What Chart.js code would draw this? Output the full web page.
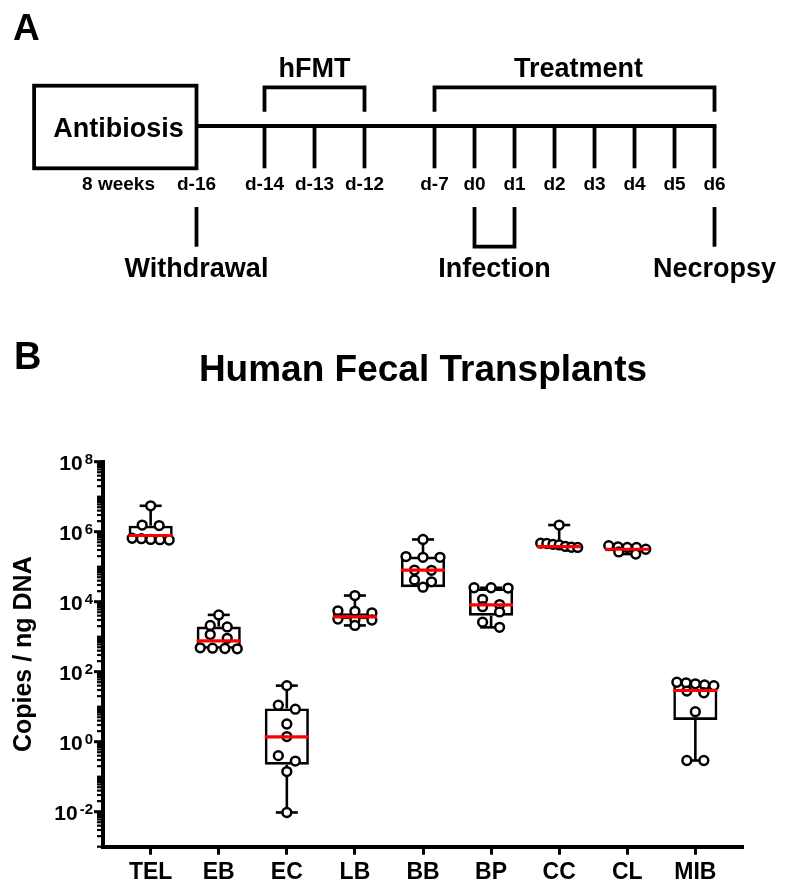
<!DOCTYPE html>
<html><head><meta charset="utf-8">
<script src="https://cdn.jsdelivr.net/npm/chart.js@4.4.1/dist/chart.umd.min.js"></script>
<style>html,body{margin:0;padding:0;background:#fff;}canvas{display:block;}</style>
</head><body>
<canvas id="panelA" width="785" height="300"></canvas>
<canvas id="panelB" width="785" height="592"></canvas>
<script>
const FONT = "'Liberation Sans', Arial, Helvetica, sans-serif";
Chart.defaults.font.family = FONT;
Chart.defaults.color = '#000';

/* ---------- Panel A: timeline (schematic slots) ---------- */
const dayLabels = ['d-16','d-14','d-13','d-12','d-7','d0','d1','d2','d3','d4','d5','d6'];
const daySlots  = [0, 1.7, 2.95, 4.2, 5.95, 6.95, 7.95, 8.95, 9.95, 10.95, 11.95, 12.95];
const antibiosisSlots = [-4.06, 0];
const antibiosisLabelSlot = -1.95;
const antibiosisDuration = '8 weeks';
const phaseLabels = ['hFMT', 'Treatment'];
const phaseFrom   = ['d-14', 'd-7'];
const phaseTo     = ['d-12', 'd6'];
const eventLabels = ['Withdrawal', 'Infection', 'Necropsy'];
const eventFrom   = ['d-16', 'd0', 'd6'];
const eventTo     = ['d-16', 'd1', 'd6'];

/* ---------- Panel B: data ---------- */
const categories = ['TEL','EB','EC','LB','BB','BP','CC','CL','MIB'];
const pointsTEL = [5.5e6, 1.55e6, 1.5e6, 6.5e5, 6.0e5, 5.8e5, 6.3e5, 5.9e5];
const pointsEB  = [4200, 2100, 1900, 1150, 900, 470, 460, 450, 480];
const pointsEC  = [40, 11, 8.5, 3.2, 1.4, 0.4, 0.28, 0.14, 0.0095];
const pointsLB  = [1.5e4, 5.5e3, 5.3e3, 4.8e3, 3.2e3, 3.0e3, 3.05e3, 2.1e3];
const pointsBB  = [6.0e5, 1.85e5, 1.95e5, 1.85e5, 8.0e4, 7.9e4, 4.2e4, 3.7e4, 2.6e4];
const pointsBP  = [2.5e4, 2.5e4, 2.45e4, 1.17e4, 8.3e3, 7.2e3, 5.1e3, 2.6e3, 1.85e3];
const pointsCC  = [1.55e6, 4.7e5, 4.6e5, 4.35e5, 4.2e5, 3.8e5, 3.6e5, 3.55e5];
const pointsCL  = [4.0e5, 3.7e5, 3.55e5, 3.55e5, 3.15e5, 2.65e5, 2.3e5];
const pointsMIB = [50, 48, 45, 42, 40, 28, 25, 7.2, 0.29, 0.29];
const groupPoints = [pointsTEL, pointsEB, pointsEC, pointsLB, pointsBB, pointsBP, pointsCC, pointsCL, pointsMIB];

const boxMin    = [5.8e5, 450, 0.0095, 2.1e3, 2.6e4, 1.85e3, 3.55e5, 2.3e5, 0.29];
const boxQ1     = [6.0e5, 450, 0.22,   3.15e3, 2.6e4, 4.0e3, 3.6e5, 2.75e5, 4.2];
const boxMedian = [7.8e5, 760, 1.38,   3.7e3, 8.0e4, 8.1e3, 3.75e5, 3.15e5, 29];
const boxQ3     = [1.48e6, 1950, 8.9,  4.7e3, 1.95e5, 2.4e4, 4.4e5, 3.45e5, 47];
const boxMax    = [5.5e6, 4200, 40,    1.5e4, 6.0e5, 2.5e4, 1.55e6, 4.0e5, 50];

const yLabelExponents = [8, 6, 4, 2, 0, -2];
const yMinExp = -3, yMaxExp = 8;
const chartTitle = 'Human Fecal Transplants';
const yTitle = 'Copies / ng DNA';

/* ---------- Panel A chart ---------- */
const timelinePlugin = {
  id: 'timeline',
  afterDraw(chart) {
    const {ctx, scales: {x, y}} = chart;
    const X = s => x.getPixelForValue(s);
    const Y = v => y.getPixelForValue(v);
    const slot = lbl => daySlots[dayLabels.indexOf(lbl)];
    const L = {line: 126, boxTop: 85.7, boxBot: 168.3, tickBot: 168.3, bracketTop: 87.3, bracketBot: 111.7,
               phaseText: 77, boxText: 137, dayText: 190, evTop: 207, evBot: 246.7, evText: 277};
    ctx.save();
    ctx.strokeStyle = '#000'; ctx.fillStyle = '#000';
    ctx.lineWidth = 3.8; ctx.lineJoin = 'miter'; ctx.lineCap = 'butt';

    ctx.font = `bold 37px ${FONT}`; ctx.textAlign = 'left'; ctx.textBaseline = 'alphabetic';
    ctx.fillText('A', 13, Y(40));

    ctx.strokeRect(X(antibiosisSlots[0]), Y(L.boxTop), X(antibiosisSlots[1]) - X(antibiosisSlots[0]), Y(L.boxBot) - Y(L.boxTop));
    ctx.font = `bold 27px ${FONT}`; ctx.textAlign = 'center';
    ctx.fillText('Antibiosis', X(antibiosisLabelSlot), Y(L.boxText));

    ctx.beginPath();
    ctx.moveTo(X(daySlots[0]), Y(L.line)); ctx.lineTo(X(daySlots[daySlots.length - 1]) + 1.9, Y(L.line));
    ctx.stroke();
    daySlots.forEach((s, i) => {
      if (i === 0) return;
      ctx.beginPath(); ctx.moveTo(X(s), Y(L.line)); ctx.lineTo(X(s), Y(L.tickBot)); ctx.stroke();
    });
    ctx.font = `bold 19px ${FONT}`; ctx.textAlign = 'center';
    dayLabels.forEach((d, i) => ctx.fillText(d, X(daySlots[i]), Y(L.dayText)));
    ctx.fillText(antibiosisDuration, X(antibiosisLabelSlot), Y(L.dayText));

    phaseLabels.forEach((lbl, i) => {
      const a = X(slot(phaseFrom[i])), b = X(slot(phaseTo[i]));
      ctx.beginPath();
      ctx.moveTo(a, Y(L.bracketBot)); ctx.lineTo(a, Y(L.bracketTop)); ctx.lineTo(b, Y(L.bracketTop)); ctx.lineTo(b, Y(L.bracketBot));
      ctx.stroke();
      ctx.font = `bold 27px ${FONT}`;
      ctx.fillText(lbl, (a + b) / 2 + (i === 1 ? 4 : 0), Y(L.phaseText));
    });

    eventLabels.forEach((lbl, i) => {
      const a = X(slot(eventFrom[i])), b = X(slot(eventTo[i]));
      ctx.beginPath();
      if (a === b) {
        ctx.moveTo(a, Y(L.evTop)); ctx.lineTo(a, Y(L.evBot));
      } else {
        ctx.moveTo(a, Y(L.evTop)); ctx.lineTo(a, Y(L.evBot)); ctx.lineTo(b, Y(L.evBot)); ctx.lineTo(b, Y(L.evTop));
      }
      ctx.stroke();
      ctx.font = `bold 27px ${FONT}`;
      ctx.fillText(lbl, (a + b) / 2, Y(L.evText));
    });
    ctx.restore();
  }
};

new Chart(document.getElementById('panelA'), {
  type: 'scatter',
  data: {datasets: []},
  options: {
    responsive: false, animation: false, events: [],
    layout: {padding: 0},
    plugins: {legend: {display: false}, tooltip: {enabled: false}},
    scales: {
      x: {type: 'linear', display: false, min: -4.9125, max: 14.7125},
      y: {type: 'linear', display: false, min: 0, max: 300, reverse: true}
    }
  },
  plugins: [timelinePlugin]
});

/* ---------- Panel B chart ---------- */
const scatterData = [];
groupPoints.forEach((arr, i) => arr.forEach(v => scatterData.push({x: i, y: v})));
const boxData = categories.map((c, i) => ({x: i, y: [boxQ1[i], boxQ3[i]]}));

const swarmPlugin = {
  id: 'swarm',
  afterDatasetsUpdate(chart) {
    const meta = chart.getDatasetMeta(0);
    const xs = chart.scales.x;
    const groups = {};
    meta.data.forEach((el, k) => {
      const cat = chart.data.datasets[0].data[k].x;
      (groups[cat] = groups[cat] || []).push(el);
    });
    const ROW_GAP = 6;
    Object.keys(groups).forEach(cat => {
      const cx = xs.getPixelForValue(+cat);
      const els = groups[cat].slice().sort((a, b) => a.y - b.y);
      const rows = []; let cur = null;
      els.forEach(el => {
        if (cur && el.y - cur.y0 < ROW_GAP) cur.items.push(el);
        else { cur = {y0: el.y, items: [el]}; rows.push(cur); }
      });
      rows.forEach(r => {
        const n = r.items.length;
        const sp = n > 1 ? Math.min(17, 37 / (n - 1)) : 0;
        r.items.forEach((el, j) => { el.x = cx + (j - (n - 1) / 2) * sp; });
      });
    });
  }
};

const boxDecor = {
  id: 'boxDecor',
  beforeDatasetsDraw(chart) {
    const {ctx, scales: {x, y}} = chart;
    ctx.save();
    ctx.strokeStyle = '#000'; ctx.lineWidth = 2.6; ctx.lineCap = 'butt';
    const capHalf = 11;
    const seg = (x1, y1, x2, y2) => { ctx.beginPath(); ctx.moveTo(x1, y1); ctx.lineTo(x2, y2); ctx.stroke(); };
    categories.forEach((c, i) => {
      const cx = x.getPixelForValue(i);
      if (boxMax[i] > boxQ3[i]) {
        const yT = y.getPixelForValue(boxMax[i]);
        seg(cx, y.getPixelForValue(boxQ3[i]), cx, yT);
        seg(cx - capHalf, yT, cx + capHalf, yT);
      }
      if (boxMin[i] < boxQ1[i]) {
        const yB = y.getPixelForValue(boxMin[i]);
        seg(cx, y.getPixelForValue(boxQ1[i]), cx, yB);
        seg(cx - capHalf, yB, cx + capHalf, yB);
      }
    });
    ctx.restore();
  },
  afterDatasetsDraw(chart) {
    const {ctx, scales: {x, y}} = chart;
    const bars = chart.getDatasetMeta(1).data;
    ctx.save();
    ctx.strokeStyle = '#ff0000'; ctx.lineWidth = 3.2; ctx.lineCap = 'butt';
    categories.forEach((c, i) => {
      const cx = x.getPixelForValue(i);
      const w = bars[i].width;
      const py = y.getPixelForValue(boxMedian[i]);
      ctx.beginPath(); ctx.moveTo(cx - w / 2, py); ctx.lineTo(cx + w / 2, py); ctx.stroke();
    });
    ctx.restore();
  },
  afterDraw(chart) {
    const {ctx, chartArea: ca, scales: {y}} = chart;
    ctx.save();
    ctx.strokeStyle = '#000'; ctx.fillStyle = '#000';
    y.ticks.forEach(t => {
      const e = Math.log10(t.value);
      const major = Math.abs(e - Math.round(e)) < 1e-6 && yLabelExponents.includes(Math.round(e));
      const py = y.getPixelForValue(t.value);
      ctx.lineWidth = major ? 3 : 2.2;
      ctx.beginPath(); ctx.moveTo(ca.left - (major ? 9 : 6), py); ctx.lineTo(ca.left, py); ctx.stroke();
    });
    const right = ca.left - 10;
    yLabelExponents.forEach(e => {
      const py = y.getPixelForValue(Math.pow(10, e));
      const es = String(e);
      ctx.font = `bold 15px ${FONT}`;
      const ew = ctx.measureText(es).width;
      ctx.textAlign = 'left'; ctx.textBaseline = 'alphabetic';
      ctx.fillText(es, right - ew, py + 2);
      ctx.font = `bold 21px ${FONT}`; ctx.textAlign = 'right';
      ctx.fillText('10', right - ew - 2, py + 8);
    });
    ctx.textAlign = 'left'; ctx.font = `bold 38px ${FONT}`;
    ctx.fillText('B', 14, 69.3);
    ctx.textAlign = 'center'; ctx.font = `bold 37px ${FONT}`;
    ctx.fillText(chartTitle, (ca.left + ca.right) / 2, 80.7);
    ctx.restore();
  }
};

new Chart(document.getElementById('panelB'), {
  type: 'scatter',
  data: {
    datasets: [
      {type: 'scatter', data: scatterData, pointRadius: 4.4, pointHoverRadius: 4.4, borderWidth: 2.5,
       pointBorderWidth: 2.5, pointBackgroundColor: '#fff', pointBorderColor: '#000', order: 0},
      {type: 'bar', data: boxData, backgroundColor: 'rgba(0,0,0,0)', borderColor: '#000', borderWidth: 2.6,
       borderSkipped: false, barPercentage: 0.81, categoryPercentage: 0.8, order: 1}
    ]
  },
  options: {
    responsive: false, animation: false, events: [],
    layout: {padding: {left: 0, right: 42, top: 161.7, bottom: 0}},
    plugins: {legend: {display: false}, tooltip: {enabled: false}},
    scales: {
      x: {
        type: 'linear', min: -0.7, max: 8.7, offset: false,
        afterBuildTicks(s) { s.ticks = categories.map((c, i) => ({value: i})); },
        afterFit(s) { s.height = 45.3; },
        ticks: {callback: (v) => categories[Math.round(v)], font: {size: 23, weight: 'bold'}, color: '#000',
                padding: 4, maxRotation: 0, autoSkip: false},
        grid: {display: true, drawOnChartArea: false, offset: false, tickLength: 8, tickWidth: 3, tickColor: '#000', color: '#000'},
        border: {display: true, width: 4, color: '#000'}
      },
      y: {
        type: 'logarithmic', min: Math.pow(10, yMinExp), max: Math.pow(10, yMaxExp),
        afterBuildTicks(s) {
          const t = [];
          for (let e = yMinExp; e < yMaxExp; e++) for (let m = 1; m <= 9; m++) t.push({value: m * Math.pow(10, e)});
          t.push({value: Math.pow(10, yMaxExp)});
          s.ticks = t;
        },
        afterFit(s) { s.width = 103; },
        ticks: {display: false},
        grid: {display: false},
        border: {display: true, width: 4, color: '#000'},
        title: {display: true, text: yTitle, font: {size: 25, weight: 'bold'}, color: '#000', padding: {top: 9, bottom: 0}}
      }
    }
  },
  plugins: [swarmPlugin, boxDecor]
});
</script>
</body></html>
